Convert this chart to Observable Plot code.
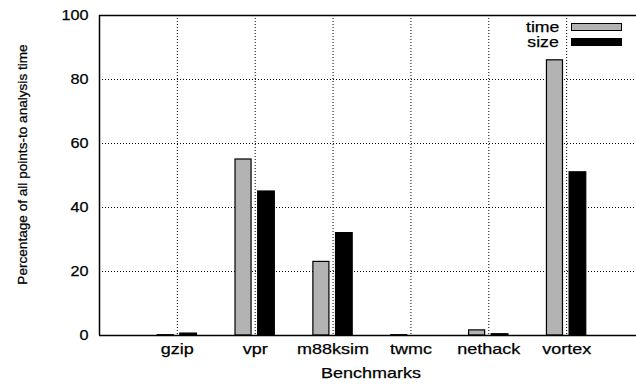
<!DOCTYPE html>
<html><head><meta charset="utf-8">
<script src="https://cdn.jsdelivr.net/npm/d3@7"></script>
<script src="https://cdn.jsdelivr.net/npm/@observablehq/plot@0.6"></script>
<style>
body{margin:0;background:#fff;}
#wrap{position:relative;width:636px;height:386px;overflow:hidden;font-family:"Liberation Sans",Arial,sans-serif;color:#000;}
#wrap svg{display:block;overflow:hidden;}
#wrap svg text{stroke:#000;stroke-width:0.25px;}
.leg-label{position:absolute;right:77px;font-size:14.5px;line-height:12px;height:12px;transform:scaleX(1.22);transform-origin:right center;white-space:nowrap;-webkit-text-stroke:0.25px #000;}
.leg-box{position:absolute;left:571px;width:51px;height:8px;box-sizing:border-box;}
</style></head><body><div id="wrap"></div>
<script>
const categories = ["gzip", "vpr", "m88ksim", "twmc", "nethack", "vortex"];
const timeValues = [0.1, 55, 23, 0.1, 1.6, 86];
const sizeValues = [0.6, 45, 32, 0, 0.4, 51];
const series = ["time", "size"];
const seriesColors = ["#b3b3b3", "#000000"];
const yTicks = [0, 20, 40, 60, 80, 100];
const barOffsets = {time: [-0.253, -0.047], size: [0.038, 0.252]};

const positions = categories.map((c, i) => i + 1);
const rows = categories.flatMap((c, i) => [
  {category: c, series: "time", value: timeValues[i], x1: i + 1 + barOffsets.time[0], x2: i + 1 + barOffsets.time[1]},
  {category: c, series: "size", value: sizeValues[i], x1: i + 1 + barOffsets.size[0], x2: i + 1 + barOffsets.size[1]}
]);

const font = '"Liberation Sans", Arial, sans-serif';
const dotted = {stroke: "#000", strokeDasharray: "1,2", strokeWidth: 1};

const chart = Plot.plot({
  width: 636, height: 386,
  marginLeft: 99, marginRight: 0, marginTop: 15, marginBottom: 51,
  style: {fontFamily: font, fontSize: "15px", color: "#000", background: "#fff"},
  x: {domain: [0, 7], range: [99, 644]},
  y: {domain: [0, 100]},
  color: {domain: series, range: seriesColors},
  marks: [
    Plot.ruleX(positions, dotted),
    Plot.ruleY(yTicks.filter(t => t > 0 && t < 100), dotted),
    Plot.rectY(rows, {x1: "x1", x2: "x2", y: "value", fill: "series", stroke: "#000", strokeWidth: 1.2}),
    Plot.ruleY([0, 100], {stroke: "#000", strokeWidth: 1.5}),
    Plot.ruleX([0], {stroke: "#000", strokeWidth: 1.5}),
    Plot.axisX(positions, {tickSize: 0, tickPadding: 8, tickFormat: i => categories[i - 1], fontSize: 15, label: null}),
    Plot.axisY(yTicks, {tickSize: 0, tickPadding: 11, fontSize: 15, label: null}),
    Plot.text(["Benchmarks"], {frameAnchor: "bottom", dx: 3, dy: 32, lineAnchor: "top", fontSize: 15}),
    Plot.text(["Percentage of all points-to analysis time"], {frameAnchor: "left", textAnchor: "middle", dx: -77, dy: -11, rotate: -90, fontSize: 13.6})
  ]
});

const wrap = document.getElementById("wrap");
wrap.appendChild(chart);

// horizontal stretch of horizontal text, as in the reference
chart.querySelectorAll("text").forEach(t => {
  if (t.textContent.startsWith("Percentage")) return;
  const len = t.getComputedTextLength();
  if (!len) return;
  const k = /^\d+$/.test(t.textContent) ? 1.08 : 1.2;
  t.setAttribute("textLength", len * k);
  t.setAttribute("lengthAdjust", "spacingAndGlyphs");
});

// legend
const legendTops = [27, 42];
series.forEach((s, i) => {
  const lab = document.createElement("div");
  lab.className = "leg-label";
  lab.textContent = s;
  lab.style.top = (legendTops[i] - 6) + "px";
  wrap.appendChild(lab);
  const box = document.createElement("div");
  box.className = "leg-box";
  box.style.top = (legendTops[i] - 4) + "px";
  box.style.background = seriesColors[i];
  box.style.border = "1.2px solid #000";
  wrap.appendChild(box);
});
</script></body></html>
